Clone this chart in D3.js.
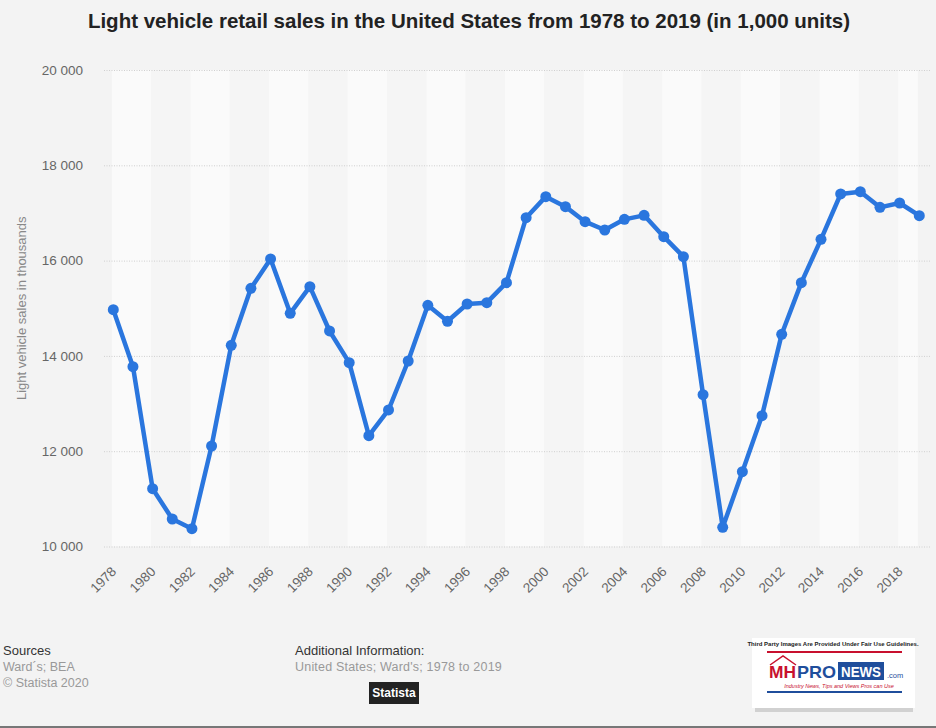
<!DOCTYPE html>
<html>
<head>
<meta charset="utf-8">
<script src="https://cdn.jsdelivr.net/npm/d3@7"></script>
<style>
  html, body { margin: 0; padding: 0; background: #f3f3f3; }
  svg { display: block; font-family: "Liberation Sans", Arial, Helvetica, sans-serif; }
</style>
</head>
<body>
<svg id="chart" width="936" height="728"></svg>
<script>
const years = [1978,1979,1980,1981,1982,1983,1984,1985,1986,1987,1988,1989,1990,1991,1992,1993,1994,1995,1996,1997,1998,1999,2000,2001,2002,2003,2004,2005,2006,2007,2008,2009,2010,2011,2012,2013,2014,2015,2016,2017,2018,2019];
const sales = [14970,13773,11213,10577,10374,12109,14222,15418,16034,14894,15453,14523,13858,12326,12865,13893,15062,14726,15089,15117,15537,16901,17342,17132,16817,16642,16866,16950,16502,16082,13186,10402,11570,12746,14453,15537,16446,17398,17447,17118,17209,16943];
const yTicks = [10000,12000,14000,16000,18000,20000];
const xTickLabels = years.filter(y => y % 2 === 0);
const titleText = "Light vehicle retail sales in the United States from 1978 to 2019 (in 1,000 units)";
const yAxisTitle = "Light vehicle sales in thousands";
const sourcesLines = ["Ward\u00B4s; BEA", "\u00A9 Statista 2020"];
const additionalInfo = "United States; Ward's; 1978 to 2019";

const svg = d3.select("#chart");
const W = 936, H = 728;
svg.append("rect").attr("width", W).attr("height", H).attr("fill", "#f3f3f3");

const plotLeft = 104, plotRight = 930;
const x = d3.scalePoint().domain(years).range([113.3, 919.3]);
const y = d3.scaleLinear().domain([10000, 20000]).range([546.5, 70]);

// alternating bands
const bands = svg.append("g");
for (let i = 0; i < years.length - 1; i += 2) {
  const a = years[i], b = years[Math.min(i + 2, years.length - 1)];
  bands.append("rect")
    .attr("x", x(a) - 1.5)
    .attr("y", y(20000))
    .attr("width", x(b) - x(a))
    .attr("height", y(10000) - y(20000))
    .attr("fill", (i / 2) % 2 === 0 ? "#fafafa" : "#f5f5f5");
}

// gridlines
svg.append("g").selectAll("line").data(yTicks).join("line")
  .attr("x1", plotLeft).attr("x2", plotRight)
  .attr("y1", d => y(d) + 0.5).attr("y2", d => y(d) + 0.5)
  .attr("stroke", "#cfcfcf").attr("stroke-width", 1)
  .attr("stroke-dasharray", "1,1.5");

// y axis labels
const fmt = d => d3.format(",")(d).replace(/,/g, " ");
const yAxis = d3.axisLeft(y).tickValues(yTicks).tickFormat(fmt).tickSize(0).tickPadding(0);
const yg = svg.append("g").attr("transform", "translate(83,0)").call(yAxis);
yg.select(".domain").remove();
yg.selectAll("text").attr("fill", "#666").attr("font-size", "13.5px")
  .attr("font-family", "Liberation Sans, Arial, sans-serif");

// x axis labels
const xAxis = d3.axisBottom(x).tickValues(xTickLabels).tickSize(0).tickPadding(0);
const xg = svg.append("g").attr("transform", "translate(0,556)").call(xAxis);
xg.select(".domain").remove();
xg.selectAll("text")
  .attr("fill", "#666").attr("font-size", "13.5px")
  .attr("font-family", "Liberation Sans, Arial, sans-serif")
  .attr("text-anchor", "end")
  .attr("dy", "0.35em")
  .attr("transform", "translate(0,13) rotate(-45)");

// y axis title
svg.append("text")
  .attr("transform", `translate(26,${y(15000)}) rotate(-90)`)
  .attr("text-anchor", "middle")
  .attr("fill", "#888").attr("font-size", "13px")
  .text(yAxisTitle);

// line
const line = d3.line().x((d, i) => x(years[i])).y(d => y(d));
svg.append("path").datum(sales)
  .attr("d", line)
  .attr("fill", "none")
  .attr("stroke", "#2a76de")
  .attr("stroke-width", 4.5)
  .attr("stroke-linejoin", "round");
svg.append("g").selectAll("circle").data(sales).join("circle")
  .attr("cx", (d, i) => x(years[i]))
  .attr("cy", d => y(d))
  .attr("r", 5.5)
  .attr("fill", "#2a76de");

// title
svg.append("text")
  .attr("x", 469).attr("y", 28)
  .attr("text-anchor", "middle")
  .attr("font-weight", "bold").attr("font-size", "20.5px")
  .attr("fill", "#222")
  .text(titleText);

// footer
svg.append("text").attr("x", 3).attr("y", 655).attr("font-size", "13px").attr("fill", "#333").text("Sources");
sourcesLines.forEach((t, i) => {
  svg.append("text").attr("x", 3).attr("y", 671 + i * 15.5).attr("font-size", "12.5px").attr("fill", "#999").text(t);
});
svg.append("text").attr("x", 295).attr("y", 655).attr("font-size", "13px").attr("fill", "#333").text("Additional Information:");
svg.append("text").attr("x", 295).attr("y", 671).attr("font-size", "12.5px").attr("fill", "#999").attr("letter-spacing", "0.2").text(additionalInfo);
svg.append("rect").attr("x", 369).attr("y", 682).attr("width", 50).attr("height", 22).attr("fill", "#222");
svg.append("text").attr("x", 394).attr("y", 697).attr("text-anchor", "middle").attr("font-size", "12px")
  .attr("font-weight", "bold").attr("fill", "#fff").attr("font-family", "Liberation Sans Narrow, Liberation Sans, Arial").text("Statista");

// bottom line
svg.append("rect").attr("x", 0).attr("y", 726).attr("width", W).attr("height", 2).attr("fill", "#777");

// logo
const lg = svg.append("g");
lg.append("rect").attr("x", 755).attr("y", 702).attr("width", 158).attr("height", 10).attr("fill", "#bbb").attr("opacity", 0.6);
lg.append("rect").attr("x", 752).attr("y", 638).attr("width", 163).attr("height", 70).attr("fill", "#fff");
lg.append("text").attr("x", 833).attr("y", 646).attr("text-anchor", "middle").attr("font-size", "6px").attr("font-weight", "bold").attr("fill", "#222")
  .text("Third Party Images Are Provided Under Fair Use Guidelines.");
lg.append("rect").attr("x", 767).attr("y", 651).attr("width", 135).attr("height", 2).attr("fill", "#c8102e");
lg.append("polyline").attr("points", "770,665 783,656 796,665").attr("fill", "none").attr("stroke", "#c8102e").attr("stroke-width", 1.5);
lg.append("text").attr("x", 769).attr("y", 678).attr("font-size", "17px").attr("font-weight", "bold").attr("fill", "#c8102e")
  .attr("textLength", 27).attr("lengthAdjust", "spacingAndGlyphs").text("MH");
lg.append("text").attr("x", 797).attr("y", 678).attr("font-size", "17px").attr("font-weight", "bold").attr("fill", "#1f4e9c")
  .attr("textLength", 39).attr("lengthAdjust", "spacingAndGlyphs").text("PRO");
lg.append("rect").attr("x", 838).attr("y", 662).attr("width", 46).attr("height", 18).attr("fill", "#1f4e9c");
lg.append("text").attr("x", 841).attr("y", 677).attr("font-size", "15px").attr("font-weight", "bold").attr("fill", "#fff")
  .attr("textLength", 40).attr("lengthAdjust", "spacingAndGlyphs").text("NEWS");
lg.append("text").attr("x", 887).attr("y", 678).attr("font-size", "7.5px").attr("fill", "#1f4e9c").text(".com");
lg.append("text").attr("x", 839).attr("y", 688).attr("text-anchor", "middle").attr("font-size", "5.5px").attr("font-style", "italic").attr("fill", "#c8102e")
  .text("Industry News, Tips and Views Pros can Use");
lg.append("rect").attr("x", 767).attr("y", 691).attr("width", 135).attr("height", 2).attr("fill", "#1f4e9c");
</script>
</body>
</html>
